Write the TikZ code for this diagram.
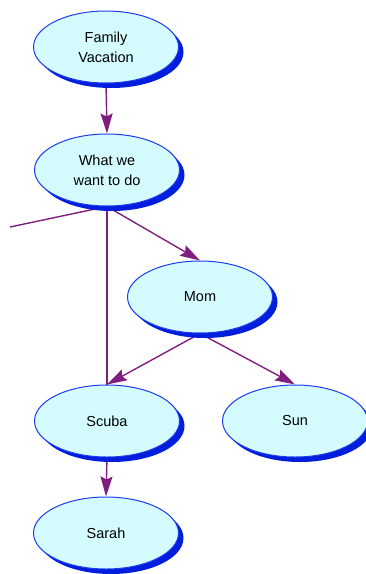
\documentclass[tikz,border=0pt]{standalone}
\usepackage{fontspec}
\setmainfont{Liberation Sans}
\usetikzlibrary{shapes.geometric,shadows,arrows.meta,backgrounds}
\definecolor{bubblefill}{RGB}{212,252,255}
\definecolor{bubbleedge}{RGB}{30,60,235}
\definecolor{bubbleshadow}{RGB}{0,30,220}
\definecolor{linkcolor}{RGB}{128,30,128}
\begin{document}
\begin{tikzpicture}[x=1pt,y=-1pt,
  bubble/.style={ellipse, draw=bubbleedge, line width=1pt, fill=bubblefill,
    minimum width=145pt, minimum height=72pt, inner sep=0pt, align=center,
    font=\fontsize{14.5}{20}\selectfont,
    drop shadow={shadow xshift=5pt, shadow yshift=-5pt, fill=bubbleshadow, opacity=1}},
  link/.style={draw=linkcolor, line width=1.4pt},
  arrowlink/.style={link, -{Stealth[length=20pt,width=12pt,inset=3pt]}}]
\useasboundingbox (0,0) rectangle (365,574);

% concept bubbles
\node[bubble] (fv)    at (106,47)  {Family\\Vacation};
\node[bubble] (want)  at (107,170) {What we\\want to do};
\node[bubble] (mom)   at (200,297) {Mom};
\node[bubble] (scuba) at (107,421) {Scuba};
\node[bubble] (sun)   at (295,421) {Sun};
\node[bubble] (sarah) at (106,533) {Sarah};
\coordinate (offleft) at (10,227);

% links, kept behind the bubbles
\begin{pgfonlayer}{background}
  \draw[arrowlink] (fv.south) -- (want.north);
  \draw[link] (want.south) -- (offleft);
  \draw[link] (want.south) -- (scuba.north);
  \draw[arrowlink] (want.south) -- (mom.north);
  \draw[arrowlink] (mom.south) -- (scuba.north);
  \draw[arrowlink] (mom.south) -- (sun.north);
  \draw[arrowlink] (scuba.south) -- (sarah.north);
\end{pgfonlayer}
\end{tikzpicture}
\end{document}
